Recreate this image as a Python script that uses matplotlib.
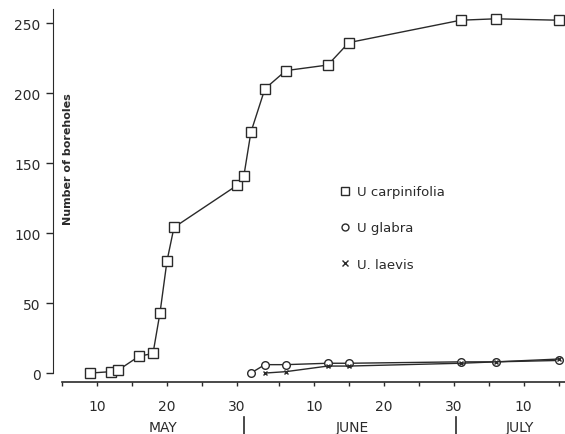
"""Cumulative number of boreholes on three elm species, May-July."""

import matplotlib
matplotlib.use("Agg")
import matplotlib.pyplot as plt
from matplotlib.lines import Line2D
from matplotlib.transforms import blended_transform_factory

# day numbers counted from 1 May (June d -> 31 + d, July d -> 61 + d)
carp_day = [9, 12, 13, 16, 18, 19, 20, 21, 30, 31, 32, 34, 37, 43, 46, 62, 67, 76]
carp_val = [0, 1, 2, 12, 14, 43, 80, 104, 134, 141, 172, 203, 216, 220, 236, 252, 253, 252]

glab_day = [32, 34, 37, 43, 46, 62, 67, 76]
glab_val = [0, 6, 6, 7, 7, 8, 8, 9]

laev_day = [34, 37, 43, 46, 62, 67, 76]
laev_val = [0, 1, 5, 5, 7, 8, 10]

major_days = [10, 20, 30, 41, 51, 61, 71]
major_labels = ["10", "20", "30", "10", "20", "30", "10"]
minor_days = [5, 15, 25, 36, 46, 56, 66, 76]
months = ["MAY", "JUNE", "JULY"]
month_centres = [19.5, 46.5, 70.5]
month_breaks = [31.0, 61.3]

INK = "#2a2a2a"

fig = plt.figure(figsize=(5.65, 4.35), dpi=100)
ax = fig.add_axes([0.0938, 0.1195, 0.906, 0.8575])

ax.plot(carp_day, carp_val, color=INK, lw=1.0, marker="s", ms=6.5,
        mfc="white", mec=INK, mew=1.0)
ax.plot(glab_day, glab_val, color=INK, lw=1.0, marker="o", ms=5.5,
        mfc="white", mec=INK, mew=1.0)
ax.plot(laev_day, laev_val, color=INK, lw=1.0, marker="x", ms=3.5,
        mec=INK, mew=1.0)

ax.set_xlim(3.7, 76.9)
ax.set_ylim(-6.4, 260)

for s in ("top", "right"):
    ax.spines[s].set_visible(False)
ax.spines["left"].set_bounds(0, 260)
ax.spines["bottom"].set_bounds(5, 76.9)
ax.spines["left"].set_color(INK)
ax.spines["bottom"].set_color(INK)
ax.spines["bottom"].set_linewidth(1.2)

ax.set_yticks([0, 50, 100, 150, 200, 250])
ax.tick_params(axis="y", direction="out", length=5, width=1, colors=INK,
               labelsize=10, pad=4)
ax.set_xticks(major_days)
ax.set_xticklabels(major_labels)
ax.set_xticks(minor_days, minor=True)
ax.tick_params(axis="x", which="both", direction="out", length=3, width=1,
               colors=INK, labelsize=10, pad=9)

ax.text(0.03, 0.60, "Number of boreholes", transform=ax.transAxes,
        rotation=90, ha="center", va="center", fontsize=8,
        fontweight="bold", color=INK)

trans = blended_transform_factory(ax.transData, ax.transAxes)
for d, m in zip(month_centres, months):
    ax.text(d, -0.12, m, transform=trans, ha="center", va="center",
            fontsize=10, color=INK)
for d in month_breaks:
    ax.plot([d, d], [-0.095, -0.16], transform=trans, color=INK, lw=1.2,
            clip_on=False)

handles = [
    Line2D([], [], ls="none", marker="s", ms=6, mfc="white", mec=INK),
    Line2D([], [], ls="none", marker="o", ms=5, mfc="white", mec=INK),
    Line2D([], [], ls="none", marker="x", ms=4.5, mec=INK),
]
ax.legend(handles, ["U carpinifolia", "U glabra", "U. laevis"],
          loc="upper left", bbox_to_anchor=(0.55, 0.545), frameon=False,
          fontsize=9.5, labelspacing=1.75, handlelength=0.6,
          handletextpad=0.6, borderpad=0, labelcolor=INK)

fig.savefig("out.png", dpi=100)
